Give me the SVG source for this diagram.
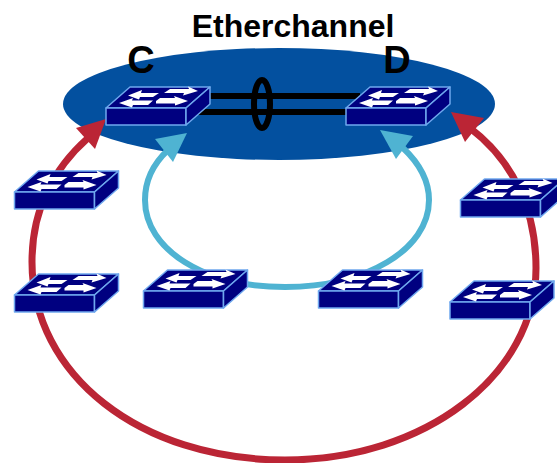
<svg xmlns="http://www.w3.org/2000/svg" width="557" height="463" viewBox="0 0 557 463">
<style>
.f{fill:#000080;stroke:#6fa8ee;stroke-width:1.5;stroke-linejoin:round}
.a{fill:#fff}
.t{font-family:"Liberation Sans",Arial,sans-serif;font-weight:700;fill:#000}
.r{fill:none;stroke:#bb2535;stroke-width:7}
.b{fill:none;stroke:#4fb3d2;stroke-width:6}
.k{fill:none;stroke:#000;stroke-width:6}
</style>
<defs>
<g id="sw">
<path class="f" d="M0 0L24 -21H104L80 0Z"/>
<path class="f" d="M0 0H80V17H0Z"/>
<path class="f" d="M80 0L104 -21V-4L80 17Z"/>
<path class="a" d="M22 -12.500L36 -18L35 -15H53L47 -11H34L33 -8.500Z"/>
<path class="a" d="M58 -15L64 -19H83L82 -21.500L92 -17L77 -12.500L78 -15Z"/>
<path class="a" d="M13 -5L27 -10L26 -7.500H47L42 -3H27L26 -0.500Z"/>
<path class="a" d="M50 -7L54 -10H69L68 -12L82 -7L69 -2.500L69 -4.500H50Z"/>
</g>
</defs>
<ellipse id="backbone" cx="279" cy="104" rx="216" ry="56" fill="#03509f"/>
<g id="connectors">
<path class="r" d="M88 138C52 170 32 210 32 262C32 375 140 460 285 460C425 460 536 375 536 268C536 208 512 160 470 128"/>
<path d="M106 119L76 128L95 149Z" fill="#bb2535"/>
<path d="M451 112L484 118L465 142Z" fill="#bb2535"/>
<path class="b" d="M168 150C152 165 145 182 145 200C145 250 205 287 285 287C365 287 429 250 429 200C429 180 419 163 403 148"/>
<path d="M187 133L155 139L173 162Z" fill="#4fb3d2"/>
<path d="M380 130L413 136L396 159Z" fill="#4fb3d2"/>
<path class="k" d="M205 96H360M198 112H356"/>
<ellipse class="k" cx="262" cy="104" rx="8" ry="24"/>
</g>
<g id="switch-c"><use href="#sw" x="106" y="108"/></g>
<g id="switch-d"><use href="#sw" x="346" y="108"/></g>
<g id="switch-l1"><use href="#sw" x="14.500" y="192"/></g>
<g id="switch-l2"><use href="#sw" x="14.500" y="295"/></g>
<g id="switch-m1"><use href="#sw" x="143.500" y="291"/></g>
<g id="switch-m2"><use href="#sw" x="318.500" y="291"/></g>
<g id="switch-r1"><use href="#sw" x="460.500" y="200"/></g>
<g id="switch-r2"><use href="#sw" x="450" y="302"/></g>
<text class="t" x="293" y="37" font-size="32" text-anchor="middle">Etherchannel</text>
<text class="t" x="141" y="73" font-size="38" text-anchor="middle">C</text>
<text class="t" x="397" y="73" font-size="38" text-anchor="middle">D</text>
</svg>
